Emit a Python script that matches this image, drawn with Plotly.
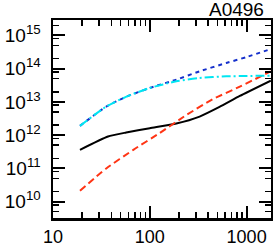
import numpy as np
import plotly.graph_objects as go

title_text = "A0496"

# x values (log scale) and log10 of y values
black_x = [19, 37, 57, 100, 188, 327, 525, 851, 1778]
black_logy = [11.56, 11.96, 12.08, 12.21, 12.35, 12.56, 12.85, 13.18, 13.64]

red_x = [19, 35.5, 67.6, 126, 240, 447, 851, 1778]
red_logy = [10.33, 11.0, 11.56, 12.06, 12.61, 13.08, 13.46, 13.92]

blue_x = [19, 35.5, 57.5, 100, 188, 327, 617, 1000, 1778]
blue_logy = [12.28, 12.86, 13.16, 13.42, 13.67, 13.92, 14.17, 14.35, 14.59]

cyan_x = [19, 35.5, 57.5, 100, 188, 327, 617, 1000, 1778]
cyan_logy = [12.28, 12.86, 13.16, 13.42, 13.62, 13.72, 13.77, 13.78, 13.79]

x_ticks = [10, 100, 1000]
x_labels = ["10", "100", "1000"]
y_ticks = [1e10, 1e11, 1e12, 1e13, 1e14, 1e15]
y_labels = ["10<sup>10</sup>", "10<sup>11</sup>", "10<sup>12</sup>",
            "10<sup>13</sup>", "10<sup>14</sup>", "10<sup>15</sup>"]

def tv(v):
    return [10 ** a for a in v]

fig = go.Figure()
common = dict(mode="lines", line_shape="spline", hoverinfo="skip", showlegend=False)
fig.add_trace(go.Scatter(x=black_x, y=tv(black_logy), line=dict(color="black", width=2, smoothing=0.5), **common))
fig.add_trace(go.Scatter(x=red_x, y=tv(red_logy), line=dict(color="#FF3414", width=2, dash="7px,4px", smoothing=0.6), **common))
fig.add_trace(go.Scatter(x=blue_x, y=tv(blue_logy), line=dict(color="#1530CC", width=2, dash="4px,4px", smoothing=0.6), **common))
fig.add_trace(go.Scatter(x=cyan_x, y=tv(cyan_logy), line=dict(color="#00E6F2", width=2, dash="9px,3px,2px,3px", smoothing=0.6), **common))

minor_x = [m * d for d in [10, 100, 1000] for m in range(2, 10) if m * d < 1800]
minor_y = [m * 10 ** e for e in range(9, 16) for m in (2, 5, 8)]

font = dict(family="Liberation Sans, Arial", size=19, color="black")
axis_common = dict(
    showline=True, linecolor="black", linewidth=2.5, mirror="allticks",
    ticks="inside", ticklen=12, tickwidth=2, tickcolor="black",
    showgrid=False, zeroline=False, automargin=False,
)

fig.update_xaxes(
    type="log", range=[1, 3.252], tickmode="array", tickvals=x_ticks, ticktext=x_labels,
    minor=dict(tickmode="array", tickvals=minor_x, ticklen=6, tickwidth=1.5, tickcolor="black", ticks="inside", showgrid=False),
    ticklabelstandoff=1, tickfont=dict(family="Liberation Sans, Arial", size=18, color="black"),
    **axis_common,
)
fig.update_yaxes(
    type="log", range=[9.509, 15.464], tickmode="array", tickvals=y_ticks, ticktext=y_labels,
    minor=dict(tickmode="array", tickvals=minor_y, ticklen=6, tickwidth=1.5, tickcolor="black", ticks="inside", showgrid=False),
    ticklabelstandoff=6, tickfont=font,
    **axis_common,
)

fig.update_layout(
    width=273, height=247,
    margin=dict(l=53, r=2, t=20, b=29),
    paper_bgcolor="white", plot_bgcolor="white",
    annotations=[dict(text=title_text, xref="paper", yref="paper", x=0.975, y=1.0,
                      xanchor="right", yanchor="bottom", showarrow=False, yshift=-2,
                      font=font)],
)

fig.write_html("out.html", config={"displayModeBar": False, "staticPlot": True},
               post_script="document.body.style.margin='0';document.body.style.overflow='hidden';")
